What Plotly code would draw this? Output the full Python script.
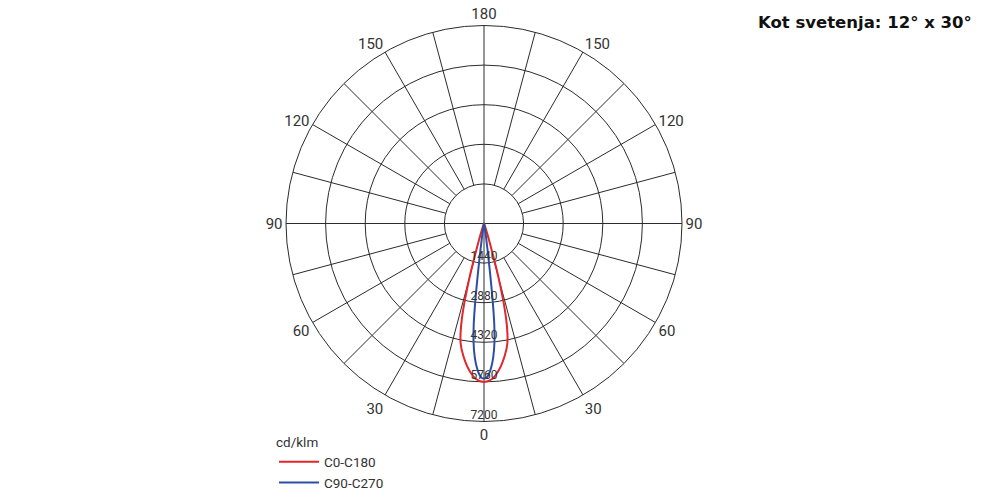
import plotly.graph_objects as go

# ---- data ----
red_theta = [-24, -20, -18, -17, -16, -15.2, -14, -13, -12, -11, -9, -6, -3, 0,
             3, 6, 9, 11, 12, 13, 14, 15.2, 16, 17, 18, 20, 24]
red_r = [0, 100, 300, 600, 1050, 1900, 2900, 3600, 4100, 4450, 4850, 5330, 5660, 5760,
         5660, 5330, 4850, 4450, 4100, 3600, 2900, 1900, 1050, 600, 300, 100, 0]

blue_theta = [-13, -10, -8.5, -7.6, -7.1, -6.7, -6.3, -5.8, -5, -4, -3, -2, -1, 0,
              1, 2, 3, 4, 5, 5.8, 6.3, 6.7, 7.1, 7.6, 8.5, 10, 13]
blue_r = [0, 150, 500, 1000, 1600, 2300, 3000, 3700, 4350, 4850, 5200, 5450, 5600, 5640,
          5600, 5450, 5200, 4850, 4350, 3700, 3000, 2300, 1600, 1000, 500, 150, 0]

radial_ticks = [1440, 2880, 4320, 5760, 7200]
radial_labels = ["1440", "2880", "4320", "5760", "7200"]
angle_ticks = [0, 30, 60, 90, 120, 150, 180, 210, 240, 270, 300, 330]
angle_labels = ["0", "30", "60", "90", "120", "150", "180", "150", "120", "90", "60", "30"]
spoke_angles = list(range(0, 360, 15))
r_max = 7200

GRID = "#2b2b2b"
TXT = "#333333"

fig = go.Figure()

# spokes: full lines on axes, others start at first ring
sp_t, sp_r = [], []
for a in spoke_angles:
    start = 0 if a % 90 == 0 else radial_ticks[0]
    sp_t += [a, a, None]
    sp_r += [start, r_max, None]
fig.add_trace(go.Scatterpolar(theta=sp_t, r=sp_r, mode="lines",
                              line=dict(color=GRID, width=1),
                              showlegend=False, hoverinfo="skip"))

fig.add_trace(go.Scatterpolar(theta=red_theta, r=red_r, mode="lines",
                              name="C0-C180", line=dict(color="#e3262b", width=2,
                                                         shape="spline")))
fig.add_trace(go.Scatterpolar(theta=blue_theta, r=blue_r, mode="lines",
                              name="C90-C270", line=dict(color="#2c4ea6", width=2,
                                                          shape="spline")))

# radial value labels along the 0° spoke
fig.add_trace(go.Scatterpolar(theta=[0] * len(radial_ticks), r=radial_ticks,
                              mode="text", text=radial_labels,
                              textposition="top center",
                              textfont=dict(family="Roboto", size=12, color=TXT),
                              showlegend=False, hoverinfo="skip"))

fig.update_layout(
    width=1000, height=500,
    margin=dict(l=0, r=0, t=0, b=0),
    paper_bgcolor="white", plot_bgcolor="white",
    polar=dict(
        domain=dict(x=[0.286, 0.682], y=[0.157, 0.949]),
        bgcolor="white",
        radialaxis=dict(range=[0, r_max], tickvals=radial_ticks[:-1],
                        showticklabels=False, ticks="", showline=False,
                        gridcolor=GRID, gridwidth=1),
        angularaxis=dict(rotation=270, direction="counterclockwise",
                         tickmode="array", tickvals=angle_ticks, ticktext=angle_labels,
                         showgrid=False, ticks="", showline=True,
                         linecolor=GRID, linewidth=1,
                         tickfont=dict(family="Roboto", size=15, color=TXT)),
    ),
    legend=dict(x=0.274, y=0.142, xanchor="left", yanchor="top",
                bgcolor="rgba(0,0,0,0)", itemwidth=40,
                title=dict(text="cd/klm", font=dict(family="Roboto", size=13.5, color=TXT)),
                font=dict(family="Roboto", size=13.5, color=TXT)),
    annotations=[dict(text="<b>Kot svetenja: 12° x 30°</b>", xref="paper", yref="paper",
                      x=0.974, y=0.956, xanchor="right", yanchor="middle",
                      showarrow=False,
                      font=dict(family="DejaVu Sans", size=16.5, color="#111111"))],
)

fig.write_html("out.html")
